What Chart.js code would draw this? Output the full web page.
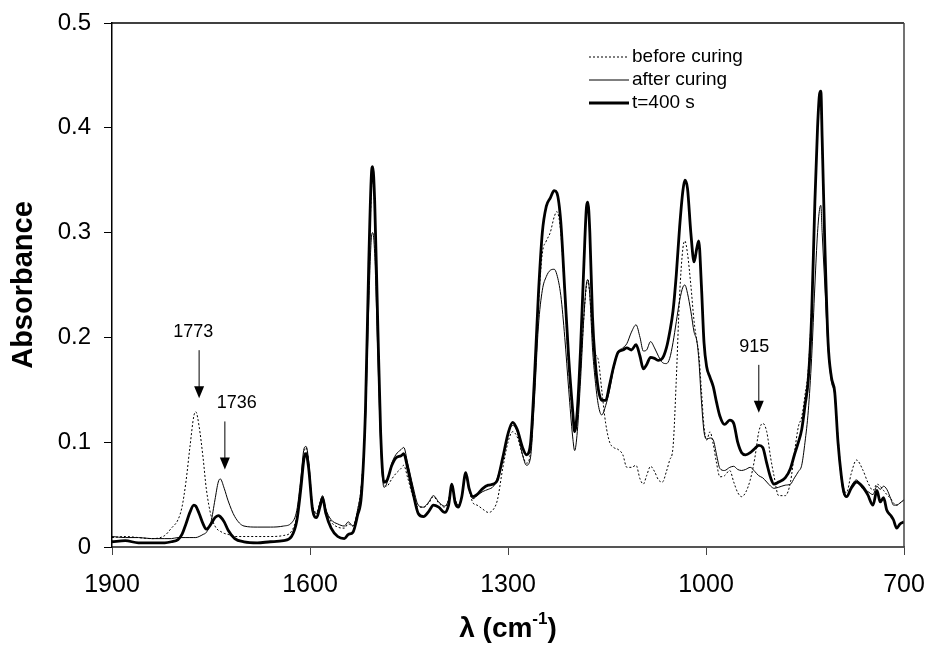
<!DOCTYPE html>
<html>
<head>
<meta charset="utf-8">
<script src="https://cdn.jsdelivr.net/npm/chart.js@4.4.1/dist/chart.umd.min.js"></script>
<style>
  body { margin: 0; background: #fff; }
  #wrap { width: 926px; height: 646px; }
</style>
</head>
<body>
<div id="wrap"><canvas id="myChart" width="926" height="646"></canvas></div>
<script>
// wavenumber grid (cm-1), shared by the three spectra
const wavenumber = [
  1900, 1880, 1860, 1840, 1820, 1810, 1800, 1794, 1788, 1782, 1776, 1773, 1768, 1762, 1757, 1750,
  1744, 1739, 1736, 1730, 1724, 1714, 1700, 1680, 1660, 1640, 1628, 1620, 1614, 1609, 1606, 1602,
  1596, 1590, 1585, 1581, 1576, 1568, 1558, 1548, 1542, 1535, 1528, 1522, 1516, 1511, 1507, 1505,
  1502, 1498, 1493, 1488, 1484, 1476, 1470, 1462, 1458, 1452, 1444, 1436, 1428, 1420, 1413, 1405,
  1396, 1390, 1385, 1380, 1375, 1370, 1364, 1359, 1353, 1347, 1338, 1330, 1322, 1316, 1308, 1300,
  1293, 1286, 1278, 1272, 1266, 1260, 1254, 1248, 1242, 1236, 1230, 1226, 1220, 1214, 1208, 1202,
  1199, 1195, 1190, 1185, 1181, 1179, 1176, 1172, 1168, 1163, 1158, 1152, 1146, 1140, 1133, 1126,
  1120, 1113, 1106, 1100, 1095, 1090, 1084, 1078, 1072, 1066, 1060, 1055, 1050, 1045, 1040, 1035,
  1032, 1028, 1023, 1018, 1014, 1011, 1007, 1003, 999, 994, 989, 984, 979, 972, 964, 958,
  952, 946, 940, 933, 926, 920, 914, 908, 902, 897, 890, 880, 872, 866, 860, 855,
  850, 845, 840, 835, 831, 828, 826, 824, 820, 815, 810, 805, 800, 795, 791, 787,
  780, 772, 762, 755, 747, 741, 736, 731, 726, 720, 716, 711, 706, 700
];

const beforeCuring = [
  0.009, 0.010, 0.009, 0.008, 0.011, 0.018, 0.026, 0.038, 0.062, 0.095, 0.125, 0.129, 0.115, 0.085, 0.055, 0.030,
  0.020, 0.016, 0.015, 0.013, 0.012, 0.010, 0.010, 0.010, 0.010, 0.011, 0.015, 0.030, 0.060, 0.090, 0.095, 0.080,
  0.040, 0.033, 0.042, 0.048, 0.036, 0.024, 0.019, 0.018, 0.022, 0.020, 0.035, 0.060, 0.130, 0.260, 0.340, 0.355,
  0.320, 0.220, 0.110, 0.060, 0.058, 0.065, 0.070, 0.075, 0.078, 0.066, 0.048, 0.038, 0.038, 0.042, 0.048, 0.042,
  0.038, 0.045, 0.058, 0.045, 0.040, 0.048, 0.070, 0.055, 0.042, 0.040, 0.036, 0.033, 0.036, 0.045, 0.075, 0.100,
  0.110, 0.105, 0.088, 0.080, 0.090, 0.150, 0.230, 0.280, 0.292, 0.300, 0.315, 0.320, 0.300, 0.240, 0.170, 0.125,
  0.115, 0.125, 0.170, 0.220, 0.250, 0.255, 0.240, 0.200, 0.185, 0.178, 0.150, 0.118, 0.100, 0.095, 0.093, 0.088,
  0.076, 0.076, 0.078, 0.065, 0.060, 0.068, 0.077, 0.072, 0.064, 0.062, 0.072, 0.083, 0.095, 0.160, 0.240, 0.285,
  0.292, 0.280, 0.250, 0.215, 0.197, 0.185, 0.150, 0.115, 0.102, 0.110, 0.098, 0.080, 0.067, 0.068, 0.073, 0.062,
  0.052, 0.048, 0.052, 0.064, 0.085, 0.110, 0.118, 0.110, 0.085, 0.068, 0.049, 0.049, 0.062, 0.090, 0.115, 0.124,
  0.145, 0.170, 0.230, 0.330, 0.400, 0.428, 0.425, 0.380, 0.290, 0.195, 0.160, 0.148, 0.105, 0.070, 0.055, 0.052,
  0.070, 0.083, 0.073, 0.062, 0.054, 0.060, 0.058, 0.054, 0.050, 0.046, 0.042, 0.040, 0.042, 0.045
];

const afterCuring = [
  0.010, 0.009, 0.009, 0.008, 0.008, 0.008, 0.009, 0.009, 0.009, 0.009, 0.009, 0.009, 0.010, 0.012, 0.014, 0.024,
  0.045, 0.062, 0.065, 0.056, 0.044, 0.029, 0.020, 0.019, 0.019, 0.020, 0.023, 0.035, 0.065, 0.094, 0.096, 0.082,
  0.038, 0.032, 0.042, 0.049, 0.036, 0.026, 0.022, 0.020, 0.024, 0.020, 0.035, 0.060, 0.120, 0.230, 0.295, 0.300,
  0.280, 0.200, 0.100, 0.057, 0.060, 0.080, 0.088, 0.093, 0.095, 0.080, 0.058, 0.040, 0.038, 0.043, 0.049, 0.043,
  0.039, 0.045, 0.058, 0.045, 0.040, 0.048, 0.068, 0.055, 0.046, 0.049, 0.053, 0.055, 0.058, 0.066, 0.085, 0.108,
  0.116, 0.110, 0.088, 0.078, 0.085, 0.140, 0.210, 0.245, 0.258, 0.264, 0.265, 0.260, 0.240, 0.200, 0.150, 0.105,
  0.092, 0.110, 0.160, 0.220, 0.252, 0.255, 0.240, 0.190, 0.160, 0.135, 0.126, 0.135, 0.150, 0.170, 0.186, 0.190,
  0.194, 0.205, 0.212, 0.200, 0.187, 0.188, 0.196, 0.190, 0.182, 0.176, 0.175, 0.180, 0.195, 0.215, 0.235, 0.248,
  0.250, 0.242, 0.225, 0.205, 0.197, 0.180, 0.140, 0.110, 0.103, 0.104, 0.102, 0.088, 0.075, 0.073, 0.076, 0.077,
  0.074, 0.073, 0.074, 0.076, 0.072, 0.068, 0.066, 0.062, 0.058, 0.056, 0.057, 0.059, 0.060, 0.066, 0.072, 0.078,
  0.100, 0.130, 0.180, 0.250, 0.300, 0.322, 0.326, 0.300, 0.250, 0.190, 0.158, 0.145, 0.100, 0.065, 0.050, 0.048,
  0.058, 0.064, 0.055, 0.053, 0.050, 0.058, 0.055, 0.058, 0.055, 0.046, 0.040, 0.040, 0.042, 0.045
];

const t400 = [
  0.005, 0.006, 0.004, 0.004, 0.004, 0.005, 0.007, 0.012, 0.022, 0.033, 0.040, 0.039, 0.032, 0.022, 0.017, 0.022,
  0.028, 0.030, 0.029, 0.024, 0.016, 0.008, 0.005, 0.004, 0.005, 0.006, 0.010, 0.025, 0.055, 0.085, 0.089, 0.075,
  0.035, 0.028, 0.038, 0.047, 0.032, 0.018, 0.010, 0.008, 0.012, 0.014, 0.030, 0.050, 0.130, 0.270, 0.355, 0.363,
  0.330, 0.230, 0.110, 0.062, 0.063, 0.078, 0.085, 0.087, 0.089, 0.075, 0.052, 0.032, 0.029, 0.034, 0.040, 0.038,
  0.033, 0.040, 0.060, 0.042, 0.038, 0.048, 0.071, 0.056, 0.048, 0.050, 0.056, 0.059, 0.060, 0.064, 0.085, 0.108,
  0.119, 0.112, 0.095, 0.088, 0.098, 0.160, 0.240, 0.300, 0.325, 0.333, 0.340, 0.338, 0.310, 0.245, 0.180, 0.130,
  0.110, 0.130, 0.190, 0.270, 0.325, 0.329, 0.300, 0.220, 0.178, 0.150, 0.140, 0.140, 0.155, 0.172, 0.186, 0.188,
  0.190, 0.188, 0.193, 0.182, 0.170, 0.174, 0.181, 0.180, 0.178, 0.180, 0.190, 0.205, 0.225, 0.260, 0.305, 0.340,
  0.350, 0.342, 0.300, 0.272, 0.285, 0.292, 0.250, 0.195, 0.172, 0.162, 0.153, 0.138, 0.125, 0.117, 0.121, 0.118,
  0.100, 0.090, 0.088, 0.090, 0.094, 0.097, 0.095, 0.080, 0.066, 0.060, 0.062, 0.066, 0.075, 0.088, 0.100, 0.112,
  0.135, 0.160, 0.220, 0.330, 0.400, 0.432, 0.435, 0.390, 0.290, 0.195, 0.162, 0.148, 0.100, 0.068, 0.052, 0.048,
  0.056, 0.062, 0.057, 0.050, 0.040, 0.054, 0.043, 0.047, 0.035, 0.030, 0.026, 0.018, 0.022, 0.024
];

const seriesLabels = ['before curing', 'after curing', 't=400 s'];

// arrow annotations: label, arrow wavenumber, arrow tip absorbance, label wavenumber
const annotLabels = ['1773', '1736', '915'];
const annotX = [1768, 1729, 920];
const annotTip = [0.142, 0.074, 0.128];
const annotTextX = [1777, 1711, 927];

const xTicks = [1900, 1600, 1300, 1000, 700];

function pts(ys) {
    return wavenumber.map((x, i) => ({ x: x, y: ys[i] }));
}

const FONT = 'Arial, "Liberation Sans", Helvetica, sans-serif';

// frame, legend, arrows and axis titles
const extras = {
    id: 'extras',
    afterDraw(chart) {
        const ctx = chart.ctx;
        const a = chart.chartArea;
        const xs = chart.scales.x, ys = chart.scales.y;
        ctx.save();

        // top and right border of the plot box
        ctx.strokeStyle = '#000';
        ctx.lineWidth = 1.5;
        ctx.beginPath();
        ctx.moveTo(a.left, a.top);
        ctx.lineTo(a.right, a.top);
        ctx.stroke();
        ctx.strokeStyle = '#444';
        ctx.beginPath();
        ctx.moveTo(a.right, a.top);
        ctx.lineTo(a.right, a.bottom);
        ctx.stroke();

        // legend
        ctx.font = '19px ' + FONT;
        ctx.textBaseline = 'middle';
        ctx.textAlign = 'left';
        chart.data.datasets.forEach((ds, i) => {
            const y = 57 + i * 23;
            ctx.strokeStyle = ds.borderColor;
            ctx.lineWidth = ds.borderWidth;
            ctx.setLineDash(ds.borderDash || []);
            ctx.beginPath();
            ctx.moveTo(589, y);
            ctx.lineTo(629, y);
            ctx.stroke();
            ctx.setLineDash([]);
            ctx.fillStyle = '#000';
            ctx.fillText(ds.label, 632, y);
        });

        // arrows
        ctx.font = '18px ' + FONT;
        ctx.textAlign = 'center';
        ctx.lineWidth = 1;
        ctx.strokeStyle = '#000';
        ctx.fillStyle = '#000';
        annotLabels.forEach((lab, i) => {
            const px = xs.getPixelForValue(annotX[i]);
            const tip = ys.getPixelForValue(annotTip[i]);
            const top = tip - 48;
            ctx.beginPath();
            ctx.moveTo(px, top);
            ctx.lineTo(px, tip - 10);
            ctx.stroke();
            ctx.beginPath();
            ctx.moveTo(px - 5, tip - 12);
            ctx.lineTo(px + 5, tip - 12);
            ctx.lineTo(px, tip);
            ctx.closePath();
            ctx.fill();
            ctx.fillText(lab, xs.getPixelForValue(annotTextX[i]), top - 18);
        });

        // axis titles
        ctx.font = 'bold 29px ' + FONT;
        ctx.save();
        ctx.translate(24, (a.top + a.bottom) / 2);
        ctx.rotate(-Math.PI / 2);
        ctx.textAlign = 'center';
        ctx.fillText('Absorbance', 0, 0);
        ctx.restore();

        const main = '\u03bb (cm';
        const sup = '-1';
        const close = ')';
        ctx.font = 'bold 28px ' + FONT;
        const w1 = ctx.measureText(main).width;
        const w3 = ctx.measureText(close).width;
        ctx.font = 'bold 17px ' + FONT;
        const w2 = ctx.measureText(sup).width;
        let x0 = (a.left + a.right) / 2 - (w1 + w2 + w3) / 2;
        const yT = 629;
        ctx.textAlign = 'left';
        ctx.font = 'bold 28px ' + FONT;
        ctx.fillText(main, x0, yT);
        ctx.font = 'bold 17px ' + FONT;
        ctx.fillText(sup, x0 + w1, yT - 10);
        ctx.font = 'bold 28px ' + FONT;
        ctx.fillText(close, x0 + w1 + w2, yT);

        ctx.restore();
    }
};

const ctx = document.getElementById('myChart');
const spectra = new Chart(ctx, {
    type: 'line',
    data: {
        datasets: [{
            label: seriesLabels[0],
            data: pts(beforeCuring),
            borderColor: '#000',
            borderWidth: 1,
            borderDash: [2, 2]
        }, {
            label: seriesLabels[1],
            data: pts(afterCuring),
            borderColor: '#000',
            borderWidth: 1
        }, {
            label: seriesLabels[2],
            data: pts(t400),
            borderColor: '#000',
            borderWidth: 2.8
        }]
    },
    options: {
        responsive: false,
        animation: false,
        events: [],
        layout: { padding: { top: 23, right: 22, left: 0, bottom: 0 } },
        elements: {
            point: { radius: 0 },
            line: { cubicInterpolationMode: 'monotone', fill: false }
        },
        plugins: {
            legend: { display: false },
            tooltip: { enabled: false }
        },
        scales: {
            x: {
                type: 'linear',
                reverse: true,
                min: 700,
                max: 1900,
                afterBuildTicks: (s) => { s.ticks = xTicks.map(v => ({ value: v })); },
                afterFit: (s) => { s.height = 99; s.paddingLeft = 0; s.paddingRight = 0; },
                grid: { drawOnChartArea: false, drawTicks: true, tickLength: 8, color: '#444' },
                border: { color: '#555', width: 2 },
                ticks: {
                    color: '#000', padding: 15, maxRotation: 0,
                    font: { size: 25, family: FONT },
                    callback: (v) => String(v)
                }
            },
            y: {
                min: 0,
                max: 0.5,
                afterFit: (s) => { s.width = 112; s.paddingTop = 0; s.paddingBottom = 0; },
                grid: { drawOnChartArea: false, drawTicks: true, tickLength: 8, color: '#000' },
                border: { color: '#000', width: 1.5 },
                ticks: {
                    stepSize: 0.1, color: '#000', padding: 13,
                    font: { size: 24, family: FONT },
                    callback: (v) => String(Math.round(v * 10) / 10)
                }
            }
        }
    },
    plugins: [extras]
});
</script>
</body>
</html>
